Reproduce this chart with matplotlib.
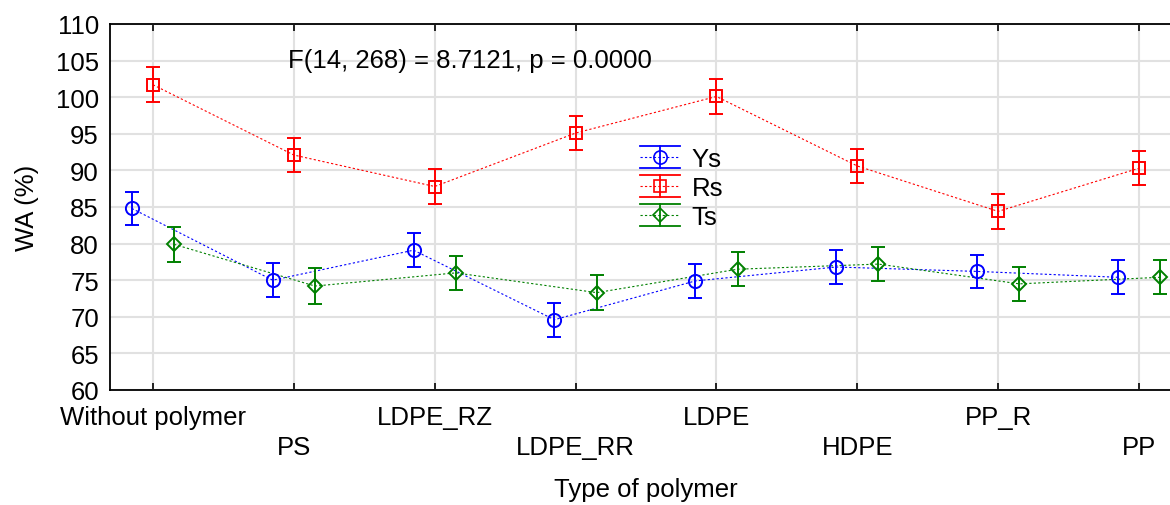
import numpy as np
import matplotlib
matplotlib.use("Agg")
from matplotlib import pyplot as plt
from matplotlib.legend_handler import HandlerBase
from matplotlib.lines import Line2D

categories = ["Without polymer", "PS", "LDPE_RZ", "LDPE_RR", "LDPE", "HDPE", "PP_R", "PP"]
ys_mean = [84.8, 75.0, 79.1, 69.6, 74.9, 76.8, 76.2, 75.4]
rs_mean = [101.7, 92.1, 87.8, 95.1, 100.1, 90.6, 84.4, 90.3]
ts_mean = [79.9, 74.2, 76.0, 73.3, 76.5, 77.2, 74.5, 75.4]
ys_err = [2.25, 2.3, 2.3, 2.3, 2.3, 2.3, 2.3, 2.3]
rs_err = [2.4, 2.35, 2.35, 2.35, 2.35, 2.35, 2.4, 2.35]
ts_err = [2.4, 2.4, 2.35, 2.35, 2.35, 2.35, 2.35, 2.35]
stat_text = "F(14, 268) = 8.7121, p = 0.0000"

plt.rcParams['font.family'] = ['Liberation Sans', 'DejaVu Sans']
fs = 18.5

series = [
    ("Ys", ys_mean, ys_err, "#0000ff", "o", -0.15),
    ("Rs", rs_mean, rs_err, "#ff0000", "s", 0.0),
    ("Ts", ts_mean, ts_err, "#008000", "D", 0.15),
]


class ErrHandler(HandlerBase):
    # legend key: marker with an error bar whose caps span the whole key
    def __init__(self, color, marker, ms):
        super().__init__()
        self.color, self.marker, self.ms = color, marker, ms

    def create_artists(self, legend, orig_handle, xd, yd, w, h, fontsize, trans):
        c = self.color
        cy = yd + h / 2
        top, bot = cy + 0.62 * h, cy - 0.62 * h
        arts = [
            Line2D([xd, xd + w], [top, top], color=c, lw=1.3),
            Line2D([xd, xd + w], [bot, bot], color=c, lw=1.3),
            Line2D([xd + w / 2, xd + w / 2], [bot, top], color=c, lw=1.3),
            Line2D([xd, xd + w], [cy, cy], color=c, lw=0.8, ls=(0, (2, 2))),
            Line2D([xd + w / 2], [cy], color=c, marker=self.marker, ms=self.ms,
                   mfc="none", mew=1.2, ls="none"),
        ]
        for a in arts:
            a.set_transform(trans)
        return arts


fig = plt.figure(figsize=(11.7, 5.06), dpi=100)
ax = fig.add_axes([110 / 1170, 115 / 506, 1072 / 1170, 366 / 506])

x = np.arange(len(categories))
handles, hmap = [], {}
for name, mean, err, col, mk, off in series:
    ms = 9 if mk == "s" else (7 if mk == "D" else 9.5)
    ax.plot(x + off, mean, color=col, lw=0.8, ls=(0, (2, 2)), zorder=3)
    ax.errorbar(x + off, mean, yerr=err, fmt="none", ecolor=col, elinewidth=1.4,
                capsize=5, capthick=1.4, zorder=4)
    ax.plot(x + off, mean, ls="none", marker=mk, ms=ms, mfc="none", mec=col,
            mew=1.4, zorder=5)
    h = Line2D([], [], color=col, label=name)
    handles.append(h)
    hmap[h] = ErrHandler(col, mk, ms)

ax.set_xlim(-0.305, 7.305)
ax.set_ylim(60, 110)
ax.set_yticks(np.arange(60, 111, 5))
ax.set_xticks(x)
ax.set_xticklabels([c if i % 2 == 0 else "\n" + c for i, c in enumerate(categories)],
                   fontsize=fs, linespacing=1.3)
ax.tick_params(axis="x", direction="in", length=5, width=1.2, top=True, pad=11)
ax.tick_params(axis="y", length=0, pad=8, labelsize=fs)
ax.grid(True, color="#e1e1e1", lw=1.5)
ax.set_axisbelow(True)
for s in ax.spines.values():
    s.set_linewidth(1.3)

ax.set_xlabel("Type of polymer", fontsize=fs, labelpad=13)
ax.set_ylabel("WA (%)", fontsize=fs, labelpad=12)

ax.text(0.96, 105.1, stat_text, fontsize=fs, va="center", ha="left")

ax.legend(handles=handles, handler_map=hmap, frameon=False, fontsize=fs,
          loc="upper left", bbox_to_anchor=(0.4825, 0.70), handlelength=1.55,
          handletextpad=0.45, labelspacing=0.2, borderpad=0)

fig.savefig("out.png", dpi=100)
